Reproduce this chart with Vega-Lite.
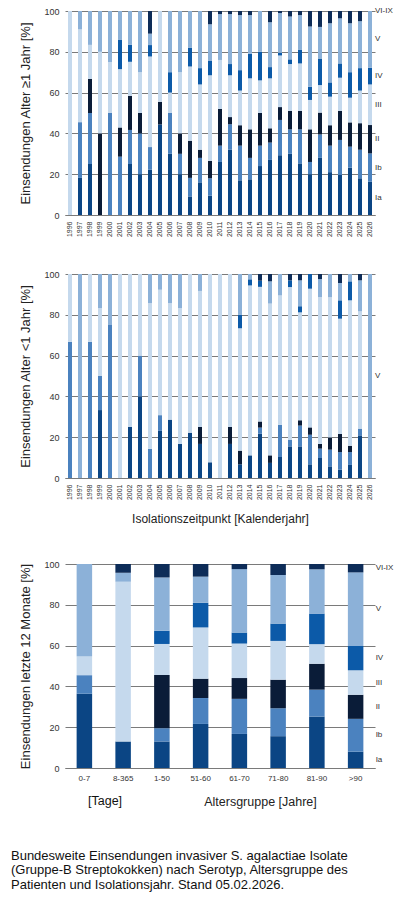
{
  "$schema": "https://vega.github.io/schema/vega-lite/v6.json",
  "padding": {"top": 7, "left": 10, "right": 3, "bottom": 2},
  "title": {
    "text": [
      "Bundesweite Einsendungen invasiver S. agalactiae Isolate",
      "(Gruppe-B Streptokokken) nach Serotyp, Altersgruppe des",
      "Patienten und Isolationsjahr. Stand 05.02.2026."
    ],
    "orient": "bottom", "anchor": "start", "fontSize": 13, "fontWeight": "normal",
    "lineHeight": 14.5, "offset": 42, "dx": -9, "color": "#111"
  },
  "datasets": {
    "alter1": [
      {"jahr":"1996","serotyp":"III","anteil":100},
      {"jahr":"1997","serotyp":"Ia","anteil":18.2},{"jahr":"1997","serotyp":"Ib","anteil":27.3},{"jahr":"1997","serotyp":"III","anteil":45.5},{"jahr":"1997","serotyp":"V","anteil":9.0},
      {"jahr":"1998","serotyp":"Ia","anteil":25},{"jahr":"1998","serotyp":"Ib","anteil":25},{"jahr":"1998","serotyp":"II","anteil":16.7},{"jahr":"1998","serotyp":"III","anteil":16.7},{"jahr":"1998","serotyp":"V","anteil":16.6},
      {"jahr":"1999","serotyp":"II","anteil":40},{"jahr":"1999","serotyp":"III","anteil":40},{"jahr":"1999","serotyp":"V","anteil":20},
      {"jahr":"2000","serotyp":"Ib","anteil":50},{"jahr":"2000","serotyp":"III","anteil":25},{"jahr":"2000","serotyp":"V","anteil":25},
      {"jahr":"2001","serotyp":"Ib","anteil":28.6},{"jahr":"2001","serotyp":"II","anteil":14.3},{"jahr":"2001","serotyp":"III","anteil":28.6},{"jahr":"2001","serotyp":"IV","anteil":14.3},{"jahr":"2001","serotyp":"V","anteil":14.2},
      {"jahr":"2002","serotyp":"Ia","anteil":25},{"jahr":"2002","serotyp":"Ib","anteil":16.7},{"jahr":"2002","serotyp":"II","anteil":16.7},{"jahr":"2002","serotyp":"III","anteil":16.7},{"jahr":"2002","serotyp":"IV","anteil":8.3},{"jahr":"2002","serotyp":"V","anteil":16.6},
      {"jahr":"2003","serotyp":"Ia","anteil":20},{"jahr":"2003","serotyp":"Ib","anteil":20},{"jahr":"2003","serotyp":"II","anteil":10},{"jahr":"2003","serotyp":"III","anteil":20},{"jahr":"2003","serotyp":"V","anteil":30},
      {"jahr":"2004","serotyp":"Ia","anteil":22.2},{"jahr":"2004","serotyp":"Ib","anteil":11.1},{"jahr":"2004","serotyp":"III","anteil":44.4},{"jahr":"2004","serotyp":"IV","anteil":5.6},{"jahr":"2004","serotyp":"V","anteil":5.6},{"jahr":"2004","serotyp":"VI-IX","anteil":11.1},
      {"jahr":"2005","serotyp":"Ia","anteil":44.4},{"jahr":"2005","serotyp":"II","anteil":11.1},{"jahr":"2005","serotyp":"III","anteil":44.5},
      {"jahr":"2006","serotyp":"Ia","anteil":30},{"jahr":"2006","serotyp":"Ib","anteil":20},{"jahr":"2006","serotyp":"III","anteil":10},{"jahr":"2006","serotyp":"IV","anteil":10},{"jahr":"2006","serotyp":"V","anteil":30},
      {"jahr":"2007","serotyp":"Ia","anteil":20},{"jahr":"2007","serotyp":"Ib","anteil":10},{"jahr":"2007","serotyp":"II","anteil":10},{"jahr":"2007","serotyp":"III","anteil":30},{"jahr":"2007","serotyp":"V","anteil":30},
      {"jahr":"2008","serotyp":"Ia","anteil":9.1},{"jahr":"2008","serotyp":"Ib","anteil":9.1},{"jahr":"2008","serotyp":"II","anteil":18.2},{"jahr":"2008","serotyp":"III","anteil":36.4},{"jahr":"2008","serotyp":"IV","anteil":9.1},{"jahr":"2008","serotyp":"V","anteil":18.1},
      {"jahr":"2009","serotyp":"Ia","anteil":16},{"jahr":"2009","serotyp":"Ib","anteil":12},{"jahr":"2009","serotyp":"II","anteil":4},{"jahr":"2009","serotyp":"III","anteil":32},{"jahr":"2009","serotyp":"IV","anteil":8},{"jahr":"2009","serotyp":"V","anteil":28},
      {"jahr":"2010","serotyp":"Ia","anteil":9.5},{"jahr":"2010","serotyp":"Ib","anteil":8.5},{"jahr":"2010","serotyp":"II","anteil":8.5},{"jahr":"2010","serotyp":"III","anteil":42},{"jahr":"2010","serotyp":"IV","anteil":7},{"jahr":"2010","serotyp":"V","anteil":18},{"jahr":"2010","serotyp":"VI-IX","anteil":6.5},
      {"jahr":"2011","serotyp":"Ia","anteil":26},{"jahr":"2011","serotyp":"Ib","anteil":8},{"jahr":"2011","serotyp":"II","anteil":18},{"jahr":"2011","serotyp":"III","anteil":24},{"jahr":"2011","serotyp":"V","anteil":22.5},{"jahr":"2011","serotyp":"VI-IX","anteil":1.5},
      {"jahr":"2012","serotyp":"Ia","anteil":32},{"jahr":"2012","serotyp":"Ib","anteil":12.5},{"jahr":"2012","serotyp":"II","anteil":3.5},{"jahr":"2012","serotyp":"III","anteil":20.5},{"jahr":"2012","serotyp":"IV","anteil":5.5},{"jahr":"2012","serotyp":"V","anteil":24.5},{"jahr":"2012","serotyp":"VI-IX","anteil":1.5},
      {"jahr":"2013","serotyp":"Ia","anteil":17},{"jahr":"2013","serotyp":"Ib","anteil":17},{"jahr":"2013","serotyp":"II","anteil":10},{"jahr":"2013","serotyp":"III","anteil":17},{"jahr":"2013","serotyp":"IV","anteil":10},{"jahr":"2013","serotyp":"V","anteil":27},{"jahr":"2013","serotyp":"VI-IX","anteil":2},
      {"jahr":"2014","serotyp":"Ia","anteil":17.5},{"jahr":"2014","serotyp":"Ib","anteil":10.5},{"jahr":"2014","serotyp":"II","anteil":14},{"jahr":"2014","serotyp":"III","anteil":25},{"jahr":"2014","serotyp":"IV","anteil":12},{"jahr":"2014","serotyp":"V","anteil":19},{"jahr":"2014","serotyp":"VI-IX","anteil":2},
      {"jahr":"2015","serotyp":"Ia","anteil":24},{"jahr":"2015","serotyp":"Ib","anteil":10},{"jahr":"2015","serotyp":"II","anteil":16},{"jahr":"2015","serotyp":"III","anteil":16},{"jahr":"2015","serotyp":"IV","anteil":14},{"jahr":"2015","serotyp":"V","anteil":20},
      {"jahr":"2016","serotyp":"Ia","anteil":27},{"jahr":"2016","serotyp":"Ib","anteil":8.5},{"jahr":"2016","serotyp":"II","anteil":7},{"jahr":"2016","serotyp":"III","anteil":24.5},{"jahr":"2016","serotyp":"IV","anteil":5.5},{"jahr":"2016","serotyp":"V","anteil":22},{"jahr":"2016","serotyp":"VI-IX","anteil":5.5},
      {"jahr":"2017","serotyp":"Ia","anteil":29.3},{"jahr":"2017","serotyp":"Ib","anteil":17.3},{"jahr":"2017","serotyp":"II","anteil":6.3},{"jahr":"2017","serotyp":"III","anteil":25.3},{"jahr":"2017","serotyp":"IV","anteil":1.3},{"jahr":"2017","serotyp":"V","anteil":19.5},{"jahr":"2017","serotyp":"VI-IX","anteil":1},
      {"jahr":"2018","serotyp":"Ia","anteil":30},{"jahr":"2018","serotyp":"Ib","anteil":12},{"jahr":"2018","serotyp":"II","anteil":9},{"jahr":"2018","serotyp":"III","anteil":23},{"jahr":"2018","serotyp":"IV","anteil":2.3},{"jahr":"2018","serotyp":"V","anteil":21},{"jahr":"2018","serotyp":"VI-IX","anteil":2.7},
      {"jahr":"2019","serotyp":"Ia","anteil":25.3},{"jahr":"2019","serotyp":"Ib","anteil":16.7},{"jahr":"2019","serotyp":"II","anteil":9},{"jahr":"2019","serotyp":"III","anteil":23.3},{"jahr":"2019","serotyp":"IV","anteil":6.6},{"jahr":"2019","serotyp":"V","anteil":17.1},{"jahr":"2019","serotyp":"VI-IX","anteil":2},
      {"jahr":"2020","serotyp":"Ia","anteil":20},{"jahr":"2020","serotyp":"Ib","anteil":6},{"jahr":"2020","serotyp":"II","anteil":16},{"jahr":"2020","serotyp":"III","anteil":14.4},{"jahr":"2020","serotyp":"IV","anteil":6.5},{"jahr":"2020","serotyp":"V","anteil":29.5},{"jahr":"2020","serotyp":"VI-IX","anteil":7.6},
      {"jahr":"2021","serotyp":"Ia","anteil":28},{"jahr":"2021","serotyp":"Ib","anteil":11.5},{"jahr":"2021","serotyp":"II","anteil":10.7},{"jahr":"2021","serotyp":"III","anteil":13.5},{"jahr":"2021","serotyp":"IV","anteil":13},{"jahr":"2021","serotyp":"V","anteil":15.5},{"jahr":"2021","serotyp":"VI-IX","anteil":7.8},
      {"jahr":"2022","serotyp":"Ia","anteil":21},{"jahr":"2022","serotyp":"Ib","anteil":13},{"jahr":"2022","serotyp":"II","anteil":10},{"jahr":"2022","serotyp":"III","anteil":14},{"jahr":"2022","serotyp":"IV","anteil":7},{"jahr":"2022","serotyp":"V","anteil":29},{"jahr":"2022","serotyp":"VI-IX","anteil":6},
      {"jahr":"2023","serotyp":"Ia","anteil":19.6},{"jahr":"2023","serotyp":"Ib","anteil":17.2},{"jahr":"2023","serotyp":"II","anteil":14.2},{"jahr":"2023","serotyp":"III","anteil":16.3},{"jahr":"2023","serotyp":"IV","anteil":7},{"jahr":"2023","serotyp":"V","anteil":22.1},{"jahr":"2023","serotyp":"VI-IX","anteil":3.6},
      {"jahr":"2024","serotyp":"Ia","anteil":23.2},{"jahr":"2024","serotyp":"Ib","anteil":10.3},{"jahr":"2024","serotyp":"II","anteil":11.9},{"jahr":"2024","serotyp":"III","anteil":12.1},{"jahr":"2024","serotyp":"IV","anteil":12.5},{"jahr":"2024","serotyp":"V","anteil":24},{"jahr":"2024","serotyp":"VI-IX","anteil":6},
      {"jahr":"2025","serotyp":"Ia","anteil":18},{"jahr":"2025","serotyp":"Ib","anteil":14},{"jahr":"2025","serotyp":"II","anteil":13},{"jahr":"2025","serotyp":"III","anteil":16},{"jahr":"2025","serotyp":"IV","anteil":11},{"jahr":"2025","serotyp":"V","anteil":23},{"jahr":"2025","serotyp":"VI-IX","anteil":5},
      {"jahr":"2026","serotyp":"Ia","anteil":16.3},{"jahr":"2026","serotyp":"Ib","anteil":13.9},{"jahr":"2026","serotyp":"II","anteil":13.9},{"jahr":"2026","serotyp":"III","anteil":19.9},{"jahr":"2026","serotyp":"IV","anteil":8.2},{"jahr":"2026","serotyp":"V","anteil":27.8},{"jahr":"2026","serotyp":"VI-IX","anteil":0}
    ],
    "alter0": [
      {"jahr":"1996","serotyp":"Ib","anteil":66.7},{"jahr":"1996","serotyp":"III","anteil":33.3},
      {"jahr":"1997","serotyp":"V","anteil":100},
      {"jahr":"1998","serotyp":"Ib","anteil":66.7},{"jahr":"1998","serotyp":"III","anteil":33.3},
      {"jahr":"1999","serotyp":"Ia","anteil":33.3},{"jahr":"1999","serotyp":"Ib","anteil":16.7},{"jahr":"1999","serotyp":"III","anteil":33.3},{"jahr":"1999","serotyp":"V","anteil":16.7},
      {"jahr":"2000","serotyp":"Ib","anteil":75},{"jahr":"2000","serotyp":"V","anteil":25},
      {"jahr":"2001","serotyp":"III","anteil":100},
      {"jahr":"2002","serotyp":"Ia","anteil":25},{"jahr":"2002","serotyp":"III","anteil":75},
      {"jahr":"2003","serotyp":"Ia","anteil":40},{"jahr":"2003","serotyp":"Ib","anteil":20},{"jahr":"2003","serotyp":"III","anteil":40},
      {"jahr":"2004","serotyp":"Ib","anteil":14.3},{"jahr":"2004","serotyp":"III","anteil":71.4},{"jahr":"2004","serotyp":"V","anteil":14.3},
      {"jahr":"2005","serotyp":"Ia","anteil":23.1},{"jahr":"2005","serotyp":"Ib","anteil":7.7},{"jahr":"2005","serotyp":"III","anteil":61.5},{"jahr":"2005","serotyp":"V","anteil":7.7},
      {"jahr":"2006","serotyp":"Ia","anteil":28.6},{"jahr":"2006","serotyp":"III","anteil":57.1},{"jahr":"2006","serotyp":"V","anteil":14.3},
      {"jahr":"2007","serotyp":"Ia","anteil":16.7},{"jahr":"2007","serotyp":"III","anteil":66.6},{"jahr":"2007","serotyp":"V","anteil":16.7},
      {"jahr":"2008","serotyp":"Ia","anteil":22.2},{"jahr":"2008","serotyp":"III","anteil":77.8},
      {"jahr":"2009","serotyp":"Ia","anteil":16.7},{"jahr":"2009","serotyp":"II","anteil":8.3},{"jahr":"2009","serotyp":"III","anteil":66.7},{"jahr":"2009","serotyp":"V","anteil":8.3},
      {"jahr":"2010","serotyp":"Ia","anteil":7.7},{"jahr":"2010","serotyp":"III","anteil":92.3},
      {"jahr":"2011","serotyp":"III","anteil":100},
      {"jahr":"2012","serotyp":"Ia","anteil":16.7},{"jahr":"2012","serotyp":"II","anteil":8.3},{"jahr":"2012","serotyp":"III","anteil":75},
      {"jahr":"2013","serotyp":"Ia","anteil":6.7},{"jahr":"2013","serotyp":"II","anteil":6.7},{"jahr":"2013","serotyp":"III","anteil":60},{"jahr":"2013","serotyp":"IV","anteil":6.7},{"jahr":"2013","serotyp":"V","anteil":19.9},
      {"jahr":"2014","serotyp":"Ia","anteil":11.1},{"jahr":"2014","serotyp":"III","anteil":83.3},{"jahr":"2014","serotyp":"IV","anteil":3},{"jahr":"2014","serotyp":"V","anteil":2.6},
      {"jahr":"2015","serotyp":"Ia","anteil":21.7},{"jahr":"2015","serotyp":"Ib","anteil":3},{"jahr":"2015","serotyp":"II","anteil":3},{"jahr":"2015","serotyp":"III","anteil":66},{"jahr":"2015","serotyp":"IV","anteil":3},{"jahr":"2015","serotyp":"VI-IX","anteil":3.3},
      {"jahr":"2016","serotyp":"Ia","anteil":7.4},{"jahr":"2016","serotyp":"II","anteil":3.7},{"jahr":"2016","serotyp":"III","anteil":74.4},{"jahr":"2016","serotyp":"V","anteil":10.9},{"jahr":"2016","serotyp":"VI-IX","anteil":3.6},
      {"jahr":"2017","serotyp":"Ia","anteil":10.3},{"jahr":"2017","serotyp":"Ib","anteil":15.8},{"jahr":"2017","serotyp":"III","anteil":63.4},{"jahr":"2017","serotyp":"V","anteil":10.5},
      {"jahr":"2018","serotyp":"Ia","anteil":15.5},{"jahr":"2018","serotyp":"Ib","anteil":3.3},{"jahr":"2018","serotyp":"III","anteil":74.8},{"jahr":"2018","serotyp":"IV","anteil":3.3},{"jahr":"2018","serotyp":"VI-IX","anteil":3.1},
      {"jahr":"2019","serotyp":"Ia","anteil":15.5},{"jahr":"2019","serotyp":"Ib","anteil":10.2},{"jahr":"2019","serotyp":"II","anteil":2.6},{"jahr":"2019","serotyp":"III","anteil":52.9},{"jahr":"2019","serotyp":"IV","anteil":3},{"jahr":"2019","serotyp":"V","anteil":12.7},{"jahr":"2019","serotyp":"VI-IX","anteil":3.1},
      {"jahr":"2020","serotyp":"Ia","anteil":6.7},{"jahr":"2020","serotyp":"Ib","anteil":14.5},{"jahr":"2020","serotyp":"II","anteil":3.6},{"jahr":"2020","serotyp":"III","anteil":68},{"jahr":"2020","serotyp":"IV","anteil":7.2},
      {"jahr":"2021","serotyp":"Ia","anteil":9.8},{"jahr":"2021","serotyp":"Ib","anteil":4.6},{"jahr":"2021","serotyp":"II","anteil":2.3},{"jahr":"2021","serotyp":"III","anteil":72},{"jahr":"2021","serotyp":"V","anteil":8.8},{"jahr":"2021","serotyp":"VI-IX","anteil":2.5},
      {"jahr":"2022","serotyp":"Ia","anteil":5.7},{"jahr":"2022","serotyp":"Ib","anteil":8.2},{"jahr":"2022","serotyp":"II","anteil":6},{"jahr":"2022","serotyp":"III","anteil":68.7},{"jahr":"2022","serotyp":"V","anteil":11.4},
      {"jahr":"2023","serotyp":"Ia","anteil":4.1},{"jahr":"2023","serotyp":"Ib","anteil":8.6},{"jahr":"2023","serotyp":"II","anteil":8.9},{"jahr":"2023","serotyp":"III","anteil":56.5},{"jahr":"2023","serotyp":"IV","anteil":9},{"jahr":"2023","serotyp":"V","anteil":8.5},{"jahr":"2023","serotyp":"VI-IX","anteil":4.4},
      {"jahr":"2024","serotyp":"Ia","anteil":6.4},{"jahr":"2024","serotyp":"Ib","anteil":6.3},{"jahr":"2024","serotyp":"II","anteil":3.1},{"jahr":"2024","serotyp":"III","anteil":71.3},{"jahr":"2024","serotyp":"IV","anteil":9.3},{"jahr":"2024","serotyp":"V","anteil":3.6},
      {"jahr":"2025","serotyp":"Ia","anteil":20.9},{"jahr":"2025","serotyp":"Ib","anteil":3.3},{"jahr":"2025","serotyp":"III","anteil":57.5},{"jahr":"2025","serotyp":"V","anteil":15.2},{"jahr":"2025","serotyp":"VI-IX","anteil":3.1},
      {"jahr":"2026","serotyp":"V","anteil":100}
    ],
    "monate12": [
      {"gruppe":"0-7","serotyp":"Ia","anteil":36.4},{"gruppe":"0-7","serotyp":"Ib","anteil":9.1},{"gruppe":"0-7","serotyp":"III","anteil":9.1},{"gruppe":"0-7","serotyp":"V","anteil":45.4},
      {"gruppe":"8-365","serotyp":"Ia","anteil":13},{"gruppe":"8-365","serotyp":"III","anteil":78.3},{"gruppe":"8-365","serotyp":"V","anteil":4.4},{"gruppe":"8-365","serotyp":"VI-IX","anteil":4.3},
      {"gruppe":"1-50","serotyp":"Ia","anteil":13},{"gruppe":"1-50","serotyp":"Ib","anteil":6.5},{"gruppe":"1-50","serotyp":"II","anteil":26.1},{"gruppe":"1-50","serotyp":"III","anteil":15.2},{"gruppe":"1-50","serotyp":"IV","anteil":6.5},{"gruppe":"1-50","serotyp":"V","anteil":26.1},{"gruppe":"1-50","serotyp":"VI-IX","anteil":6.6},
      {"gruppe":"51-60","serotyp":"Ia","anteil":21.6},{"gruppe":"51-60","serotyp":"Ib","anteil":12.7},{"gruppe":"51-60","serotyp":"II","anteil":9.5},{"gruppe":"51-60","serotyp":"III","anteil":25.1},{"gruppe":"51-60","serotyp":"IV","anteil":12.1},{"gruppe":"51-60","serotyp":"V","anteil":12.8},{"gruppe":"51-60","serotyp":"VI-IX","anteil":6.2},
      {"gruppe":"61-70","serotyp":"Ia","anteil":16.7},{"gruppe":"61-70","serotyp":"Ib","anteil":17.2},{"gruppe":"61-70","serotyp":"II","anteil":10.2},{"gruppe":"61-70","serotyp":"III","anteil":16.9},{"gruppe":"61-70","serotyp":"IV","anteil":5.4},{"gruppe":"61-70","serotyp":"V","anteil":31.1},{"gruppe":"61-70","serotyp":"VI-IX","anteil":2.5},
      {"gruppe":"71-80","serotyp":"Ia","anteil":15.6},{"gruppe":"71-80","serotyp":"Ib","anteil":13.7},{"gruppe":"71-80","serotyp":"II","anteil":14},{"gruppe":"71-80","serotyp":"III","anteil":19},{"gruppe":"71-80","serotyp":"IV","anteil":8.5},{"gruppe":"71-80","serotyp":"V","anteil":23.8},{"gruppe":"71-80","serotyp":"VI-IX","anteil":5.4},
      {"gruppe":"81-90","serotyp":"Ia","anteil":25.2},{"gruppe":"81-90","serotyp":"Ib","anteil":13.2},{"gruppe":"81-90","serotyp":"II","anteil":12.7},{"gruppe":"81-90","serotyp":"III","anteil":9.6},{"gruppe":"81-90","serotyp":"IV","anteil":15},{"gruppe":"81-90","serotyp":"V","anteil":21.7},{"gruppe":"81-90","serotyp":"VI-IX","anteil":2.6},
      {"gruppe":">90","serotyp":"Ia","anteil":8},{"gruppe":">90","serotyp":"Ib","anteil":16.1},{"gruppe":">90","serotyp":"II","anteil":11.8},{"gruppe":">90","serotyp":"III","anteil":12},{"gruppe":">90","serotyp":"IV","anteil":11.9},{"gruppe":">90","serotyp":"V","anteil":36.1},{"gruppe":">90","serotyp":"VI-IX","anteil":4.1}
    ]
  },
  "vconcat": [
    {
      "vconcat": [
        {
          "width": 310, "height": 204,
          "data": {"name": "alter1"},
          "transform": [{"calculate": "indexof(['Ia','Ib','II','III','IV','V','VI-IX'], datum.serotyp)", "as": "rang"}],
          "layer": [
            {
              "mark": "bar",
              "encoding": {
                "x": {"field": "jahr", "type": "ordinal", "title": null,
                      "scale": {"paddingInner": 0.6, "paddingOuter": 0.3},
                      "axis": {"labelAngle": -90, "labelFontSize": 7, "labelPadding": 6}},
                "y": {"field": "anteil", "type": "quantitative", "stack": "zero",
                      "title": "Einsendungen  Alter ≥1 Jahr [%]", "scale": {"domain": [0, 100]}},
                "color": {"field": "serotyp", "type": "nominal", "legend": null,
                          "scale": {"domain": ["Ia","Ib","II","III","IV","V","VI-IX"],
                                    "range": ["#0b4584","#4b82bf","#0a1c38","#c5d9ed","#0c5aa8","#8cb1d8","#0d2c58"]}},
                "order": {"field": "rang"}
              }
            },
            {
              "transform": [
                {"stack": "anteil", "groupby": ["jahr"], "sort": [{"field": "rang"}], "as": ["y0", "y1"]},
                {"calculate": "(datum.y0 + datum.y1) / 2", "as": "mitte"},
                {"filter": "datum.jahr == '2026'"}
              ],
              "mark": {"type": "text", "align": "left", "dx": 5, "fontSize": 8, "color": "#333"},
              "encoding": {
                "x": {"field": "jahr", "type": "ordinal", "title": null},
                "y": {"field": "mitte", "type": "quantitative", "title": "Einsendungen  Alter ≥1 Jahr [%]"},
                "text": {"field": "serotyp"}
              }
            }
          ]
        },
        {
          "width": 310, "height": 204,
          "data": {"name": "alter0"},
          "transform": [{"calculate": "indexof(['Ia','Ib','II','III','IV','V','VI-IX'], datum.serotyp)", "as": "rang"}],
          "layer": [
            {
              "mark": "bar",
              "encoding": {
                "x": {"field": "jahr", "type": "ordinal", "title": "Isolationszeitpunkt [Kalenderjahr]",
                      "scale": {"paddingInner": 0.6, "paddingOuter": 0.3},
                      "axis": {"labelAngle": -90, "labelFontSize": 7, "labelPadding": 6, "titleFontSize": 12, "titlePadding": 14}},
                "y": {"field": "anteil", "type": "quantitative", "stack": "zero",
                      "title": "Einsendungen  Alter <1 Jahr [%]", "scale": {"domain": [0, 100]}},
                "color": {"field": "serotyp", "type": "nominal", "legend": null,
                          "scale": {"domain": ["Ia","Ib","II","III","IV","V","VI-IX"],
                                    "range": ["#0b4584","#4b82bf","#0a1c38","#c5d9ed","#0c5aa8","#8cb1d8","#0d2c58"]}},
                "order": {"field": "rang"}
              }
            },
            {
              "transform": [
                {"stack": "anteil", "groupby": ["jahr"], "sort": [{"field": "rang"}], "as": ["y0", "y1"]},
                {"calculate": "(datum.y0 + datum.y1) / 2", "as": "mitte"},
                {"filter": "datum.jahr == '2026'"}
              ],
              "mark": {"type": "text", "align": "left", "dx": 5, "fontSize": 8, "color": "#333"},
              "encoding": {
                "x": {"field": "jahr", "type": "ordinal", "title": "Isolationszeitpunkt [Kalenderjahr]"},
                "y": {"field": "mitte", "type": "quantitative", "title": "Einsendungen  Alter <1 Jahr [%]"},
                "text": {"field": "serotyp"}
              }
            }
          ]
        }
      ],
      "spacing": 33
    },
    {
      "width": 310, "height": 204,
      "title": {"text": "[Tage]", "orient": "bottom", "anchor": "start", "frame": "group",
                "dx": 23, "offset": -13, "fontSize": 12.5, "fontWeight": "normal", "color": "#111"},
      "data": {"name": "monate12"},
      "transform": [{"calculate": "indexof(['Ia','Ib','II','III','IV','V','VI-IX'], datum.serotyp)", "as": "rang"}],
      "layer": [
        {
          "mark": "bar",
          "encoding": {
            "x": {"field": "gruppe", "type": "ordinal", "sort": null, "title": "Altersgruppe [Jahre]",
                  "scale": {"paddingInner": 0.6, "paddingOuter": 0.3},
                  "axis": {"labelAngle": 0, "labelFontSize": 8, "labelPadding": 6,
                           "titleFontSize": 12.5, "titlePadding": 13, "titleX": 195, "titleAlign": "center"}},
            "y": {"field": "anteil", "type": "quantitative", "stack": "zero",
                  "title": "Einsendungen  letzte 12 Monate [%]", "scale": {"domain": [0, 100]}},
            "color": {"field": "serotyp", "type": "nominal", "legend": null,
                      "scale": {"domain": ["Ia","Ib","II","III","IV","V","VI-IX"],
                                "range": ["#0b4584","#4b82bf","#0a1c38","#c5d9ed","#0c5aa8","#8cb1d8","#0d2c58"]}},
            "order": {"field": "rang"}
          }
        },
        {
          "transform": [
            {"stack": "anteil", "groupby": ["gruppe"], "sort": [{"field": "rang"}], "as": ["y0", "y1"]},
            {"calculate": "(datum.y0 + datum.y1) / 2", "as": "mitte"},
            {"filter": "datum.gruppe == '>90'"}
          ],
          "mark": {"type": "text", "align": "left", "dx": 20, "fontSize": 8, "color": "#333"},
          "encoding": {
            "x": {"field": "gruppe", "type": "ordinal", "sort": null, "title": "Altersgruppe [Jahre]"},
            "y": {"field": "mitte", "type": "quantitative", "title": "Einsendungen  letzte 12 Monate [%]"},
            "text": {"field": "serotyp"}
          }
        }
      ]
    }
  ],
  "spacing": 35,
  "config": {
    "font": "Liberation Sans",
    "view": {"stroke": null},
    "axisY": {"values": [0, 20, 40, 60, 80, 100], "domain": false, "ticks": false, "gridColor": "#7a7a7a",
              "gridOpacity": 1, "labelFontSize": 9, "labelColor": "#333", "labelPadding": 6,
              "titleFontSize": 13, "titleFontWeight": "normal", "titleColor": "#222", "titlePadding": 11},
    "axisX": {"ticks": false, "domainColor": "#7a7a7a", "labelColor": "#333", "grid": false,
              "titleFontWeight": "normal", "titleColor": "#222"}
  }
}
